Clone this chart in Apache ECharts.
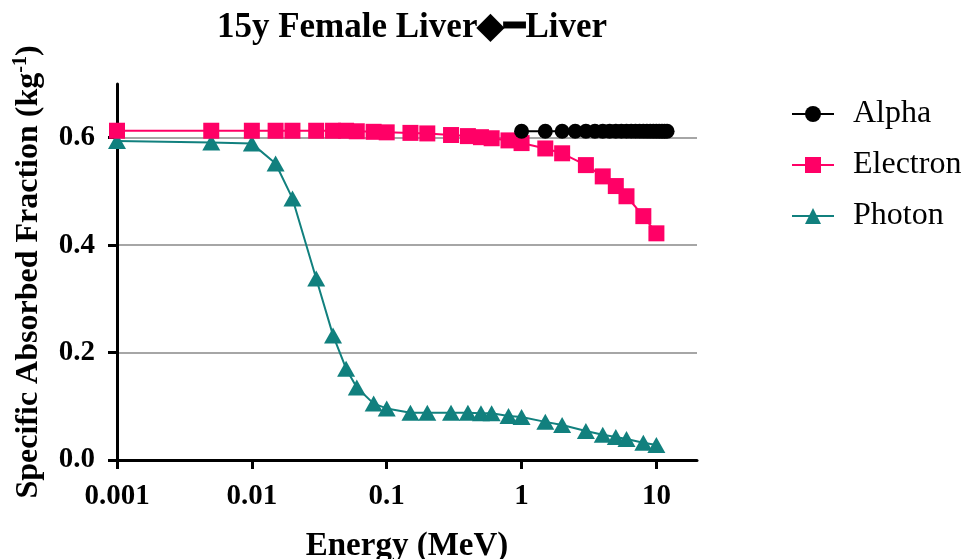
<!DOCTYPE html>
<html>
<head>
<meta charset="utf-8">
<script src="https://cdn.jsdelivr.net/npm/echarts@6/dist/echarts.min.js"></script>
<style>
  html, body { margin: 0; padding: 0; background: #fff; }
  #chart { width: 969px; height: 559px; }
</style>
</head>
<body>
<div id="chart"></div>
<script>
// energies (MeV) and SAF values (kg^-1)
const alphaEnergy = [1, 1.5, 2, 2.5, 3, 3.5, 4, 4.5, 5, 5.5, 6, 6.5, 7, 7.5, 8, 8.5, 9, 9.5, 10, 10.5, 11, 11.5, 12];
const alphaSAF = [0.612, 0.612, 0.612, 0.612, 0.612, 0.612, 0.612, 0.612, 0.612, 0.612, 0.612, 0.612,
  0.612, 0.612, 0.612, 0.612, 0.612, 0.612, 0.612, 0.612, 0.612, 0.612, 0.612];

const energy = [0.001, 0.005, 0.01, 0.015, 0.02, 0.03, 0.04, 0.05, 0.06, 0.08, 0.1, 0.15, 0.2,
  0.3, 0.4, 0.5, 0.6, 0.8, 1, 1.5, 2, 3, 4, 5, 6, 8, 10];
const electronSAF = [0.613, 0.613, 0.613, 0.613, 0.613, 0.613, 0.613, 0.613, 0.612, 0.611, 0.610, 0.609, 0.608,
  0.605, 0.603, 0.601, 0.599, 0.595, 0.590, 0.580, 0.571, 0.549, 0.528, 0.510, 0.491, 0.454, 0.422];
const photonSAF = [0.594, 0.591, 0.589, 0.552, 0.487, 0.338, 0.232, 0.170, 0.135, 0.105, 0.096, 0.088, 0.088,
  0.088, 0.088, 0.087, 0.087, 0.082, 0.080, 0.071, 0.065, 0.054, 0.047, 0.043, 0.039, 0.032, 0.028];

const xTicks = [0.001, 0.01, 0.1, 1, 10];
const yTicks = [0, 0.2, 0.4, 0.6];

const font = '"Liberation Serif", "Times New Roman", serif';

function pairs(xs, ys) {
  return xs.map((x, i) => [x, ys[i]]);
}

const chart = echarts.init(document.getElementById('chart'));

const option = {
  animation: false,
  title: {
    text: '15y Female Liver◆━Liver',
    left: 407,
    textAlign: 'center',
    top: 5,
    textStyle: { fontFamily: font, fontWeight: 'bold', fontSize: 35, color: '#000' }
  },
  legend: {
    orient: 'vertical',
    left: 786,
    top: 93,
    itemWidth: 42,
    itemHeight: 20,
    itemGap: 19,
    textStyle: { fontFamily: font, fontSize: 32, color: '#000', padding: [0, 0, 0, 14] },
    data: ['Alpha', 'Electron', 'Photon']
  },
  grid: { left: 117, right: 272, top: 84, bottom: 99, outerBoundsMode: 'none', containLabel: false },
  xAxis: {
    type: 'log',
    min: 0.001,
    max: 20,
    name: 'Energy (MeV)',
    nameLocation: 'middle',
    nameGap: 70,
    nameTextStyle: { fontFamily: font, fontWeight: 'bold', fontSize: 33, color: '#000' },
    axisLine: { show: true, lineStyle: { color: '#000', width: 3 } },
    axisTick: { show: true, length: 9, customValues: xTicks, lineStyle: { color: '#000', width: 3 } },
    axisLabel: {
      customValues: xTicks,
      fontFamily: font, fontWeight: 'bold', fontSize: 29, color: '#000', margin: 22,
      formatter: v => String(v)
    },
    splitLine: { show: false },
    minorTick: { show: false }
  },
  yAxis: {
    type: 'value',
    min: 0,
    max: 0.7,
    interval: 0.2,
    name: '{a|Specific Absorbed Fraction (kg}{s|-1}{a|)}',
    nameLocation: 'middle',
    nameGap: 70,
    nameRotate: 90,
    nameTextStyle: {
      rich: {
        a: { fontFamily: font, fontWeight: 'bold', fontSize: 32, color: '#000', lineHeight: 36 },
        s: { fontFamily: font, fontWeight: 'bold', fontSize: 20, color: '#000', verticalAlign: 'top', lineHeight: 36 }
      }
    },
    axisLine: { show: true, lineStyle: { color: '#000', width: 3 } },
    axisTick: { show: true, length: 9, customValues: yTicks, lineStyle: { color: '#000', width: 3 } },
    axisLabel: {
      customValues: yTicks,
      fontFamily: font, fontWeight: 'bold', fontSize: 29, color: '#000', margin: 22,
      formatter: v => v.toFixed(1)
    },
    splitLine: {
      show: true,
      showMinLine: false,
      lineStyle: { color: '#a6a6a6', width: 2 }
    }
  },
  series: [
    {
      name: 'Alpha',
      type: 'line',
      data: pairs(alphaEnergy, alphaSAF),
      symbol: 'circle',
      symbolSize: 15,
      color: '#000',
      lineStyle: { width: 2, color: '#000' },
      itemStyle: { color: '#000' },
      z: 5
    },
    {
      name: 'Electron',
      type: 'line',
      data: pairs(energy, electronSAF),
      symbol: 'rect',
      symbolSize: 16,
      color: '#ff0066',
      lineStyle: { width: 2, color: '#ff0066' },
      itemStyle: { color: '#ff0066' },
      z: 4
    },
    {
      name: 'Photon',
      type: 'line',
      data: pairs(energy, photonSAF),
      symbol: 'triangle',
      symbolSize: [18, 16],
      color: '#11807e',
      lineStyle: { width: 2, color: '#11807e' },
      itemStyle: { color: '#11807e' },
      z: 3
    }
  ]
};

chart.setOption(option);
</script>
</body>
</html>
